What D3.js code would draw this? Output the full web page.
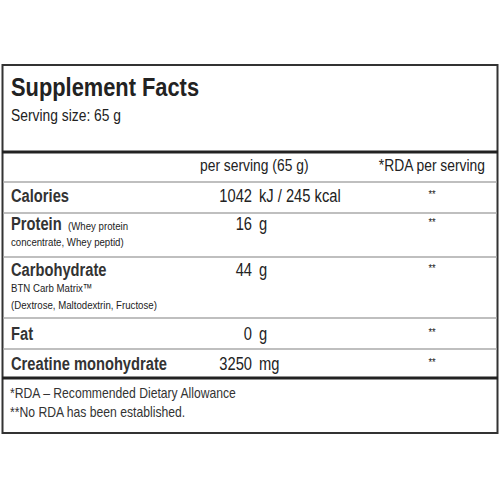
<!DOCTYPE html>
<html><head><meta charset="utf-8">
<script src="https://cdn.jsdelivr.net/npm/d3@7"></script>
<style>body{margin:0;background:#fff}</style>
</head><body><div id="facts"></div>
<script>
var nutrients = ["Calories", "Protein", "Carbohydrate", "Fat", "Creatine monohydrate"];
var amounts = ["1042", "16", "44", "0", "3250"];
var units = ["kJ / 245 kcal", "g", "g", "g", "mg"];
var rda = ["**", "**", "**", "**", "**"];
var rowLines = [182, 213, 257, 318, 349];
var footer = ["*RDA \u2013 Recommended Dietary Allowance", "**No RDA has been established."];

var font = "'Liberation Sans', Arial, sans-serif";
var squeeze = 0.84;
var svg = d3.select("#facts").append("svg").attr("width", 500).attr("height", 500);
var ink = "#222";

svg.append("rect").attr("x", 2.5).attr("y", 65).attr("width", 495).attr("height", 368)
  .attr("fill", "none").attr("stroke", "#333").attr("stroke-width", 2);
[152, 378].forEach(function(y) {
  svg.append("line").attr("x1", 2).attr("x2", 498).attr("y1", y).attr("y2", y)
    .attr("stroke", "#222").attr("stroke-width", 3);
});
rowLines.forEach(function(y) {
  svg.append("line").attr("x1", 3).attr("x2", 497).attr("y1", y).attr("y2", y)
    .attr("stroke", "#aaa").attr("stroke-width", 1.5);
});

// condensed look: squeeze each text horizontally around its anchor point
function txt(x, y, s, size, weight, anchor) {
  return svg.append("text")
    .attr("transform", "translate(" + x + "," + y + ") scale(" + squeeze + ",1)")
    .text(s)
    .attr("font-family", font).attr("font-size", size).attr("font-weight", weight || "normal")
    .attr("text-anchor", anchor || "start").attr("fill", ink);
}

txt(11, 96, "Supplement Facts", 26, "bold");
txt(11, 121, "Serving size: 65 g", 16.5);
txt(200, 171, "per serving (65 g)", 16.5);
txt(485, 171, "*RDA per serving", 16.5, "normal", "end");

var baselines = [202, 230, 276, 340, 370];
nutrients.forEach(function(n, i) {
  txt(11, baselines[i], n, 17.5, "bold").attr("fill", "#333");
  txt(252, baselines[i], amounts[i], 17.5, "normal", "end");
  txt(259, baselines[i], units[i], 17.5);
  txt(432, baselines[i] - 4, rda[i], 11, "normal", "middle");
});
txt(68, 230, "(Whey protein", 11.5);
txt(11, 246, "concentrate, Whey peptid)", 11.5);
txt(11, 292, "BTN Carb Matrix\u2122", 11.5);
txt(11, 309, "(Dextrose, Maltodextrin, Fructose)", 11.5);

footer.forEach(function(f, i) { txt(10, 398 + i * 19, f, 14.5).attr("fill", "#333"); });
</script></body></html>
